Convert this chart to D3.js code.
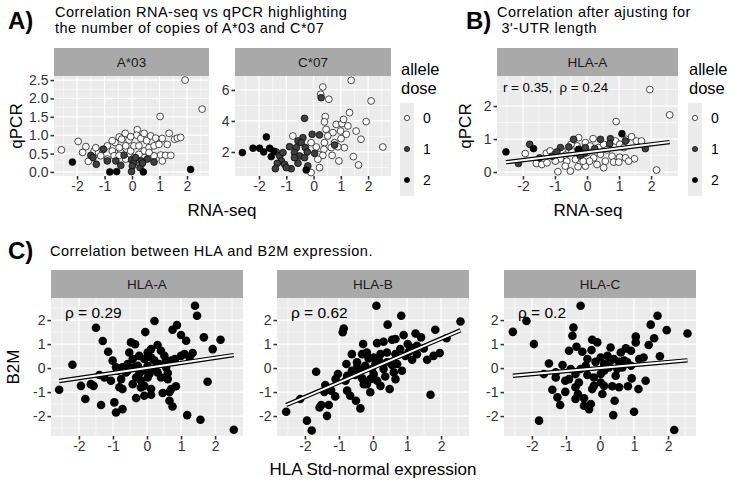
<!DOCTYPE html>
<html><head><meta charset="utf-8">
<script src="https://cdn.jsdelivr.net/npm/d3@7/dist/d3.min.js"></script>
<style>body{margin:0;background:#fff}svg{display:block;font-family:"Liberation Sans",Arial,Helvetica,sans-serif}</style>
</head><body><svg id="c" width="749" height="484"></svg>
<script>
// ---------------- DATA ----------------
const doseLevels = ["0","1","2"];
// Panel A, facet A*03 : [RNA-seq, qPCR] per allele dose
const a03Dose0 = [[1.93,2.5],[2.55,1.71],[1.02,1.51],[-2.57,0.6],[-1.96,0.83],[-1.68,0.69],[-1.8,0.53],[-1.59,0.29],[-1.38,0.57],[-1.22,0.53],[-1.08,0.6],[-0.9,0.71],[-0.72,0.57],[-0.62,0.8],[-0.47,0.95],[-0.25,1.05],[-0.38,0.89],[-0.11,0.87],[0.19,1.15],[0.17,1.0],[0.32,0.91],[0.53,0.85],[0.68,0.98],[0.86,0.92],[1.1,0.91],[1.35,1.05],[1.55,0.89],[1.65,0.92],[1.77,0.94],[1.28,0.75],[-0.65,0.44],[-0.41,0.53],[-0.23,0.71],[-0.05,0.57],[0.07,0.71],[0.25,0.71],[0.44,0.57],[0.62,0.66],[0.8,0.71],[0.98,0.75],[1.04,0.46],[1.22,0.45],[1.41,0.45],[0.8,0.44],[1.1,0.3],[0.44,0.39],[-0.9,0.35],[-1.14,0.44],[-0.47,0.66],[0.07,0.39],[-0.23,0.35],[0.25,0.48],[0.62,0.53],[-0.72,0.85],[-0.05,0.96],[0.44,1.05],[-0.47,0.45],[-1.32,0.66]];
const a03Dose1 = [[-1.5,0.45],[-1.42,0.39],[-1.3,0.21],[-1.04,0.62],[-0.9,0.3],[-0.59,0.3],[-0.41,0.18],[-0.29,0.46],[-0.02,0.33],[0.07,0.25],[0.13,0.39],[0.34,0.3],[0.01,0.16],[0.29,0.12],[0.56,0.35],[0.8,0.27],[0.38,0.24],[-0.02,0.01]];
const a03Dose2 = [[-2.17,0.27],[-0.81,0.0],[-0.56,0.01],[0.41,0.0],[2.13,0.07]];
// Panel A, facet C*07
const c07Dose0 = [[1.38,6.62],[0.34,6.19],[0.26,5.72],[0.56,5.4],[2.11,5.29],[1.32,4.54],[0.43,4.28],[0.4,3.94],[1.93,3.96],[0.83,3.78],[1.04,3.83],[1.1,4.1],[1.26,3.68],[0.46,3.46],[0.71,3.25],[0.99,3.35],[1.2,3.14],[1.56,3.35],[-0.76,3.03],[0.52,3.03],[1.01,2.86],[1.74,2.82],[0.4,2.6],[0.77,2.6],[1.13,2.28],[0.1,2.32],[0.38,2.17],[0.65,2.28],[0.89,2.34],[2.54,2.32],[0.16,1.85],[0.34,1.78],[0.68,1.78],[1.46,1.7],[0.16,1.53],[0.93,1.42],[1.65,1.16],[0.22,0.99],[-0.09,0.67],[-0.09,2.6]];
const c07Dose1 = [[0.28,5.5],[-0.33,4.17],[-0.05,3.14],[0.22,3.1],[-0.39,2.92],[-0.57,2.71],[-0.45,2.6],[-0.88,2.34],[-0.63,2.28],[-0.3,2.28],[-0.7,1.96],[-0.51,1.74],[-0.23,2.0],[0.04,1.91],[0.77,2.45],[-1.37,2.0],[-1.24,1.74],[-1.18,1.42],[-1.33,1.27],[-1.06,1.2],[-0.82,0.92],[-1.4,0.92],[-1.0,0.99],[-0.57,1.27],[-0.33,1.63],[-0.7,1.63],[-1.12,1.96],[-0.21,1.1]];
const c07Dose2 = [[-2.61,1.96],[-2.22,2.24],[-1.98,2.24],[-1.83,2.0],[-1.61,2.24],[-1.73,2.97],[-1.46,2.06],[-1.55,1.7],[-0.27,0.84]];
// Panel B, HLA-A after 3'-UTR adjustment
const bDose0 = [[1.96,2.5],[2.58,1.73],[0.91,1.53],[2.17,0.06],[-0.91,0.01],[-0.52,0.03],[-0.28,0.16],[-0.05,0.18],[-1.93,0.56],[-1.58,0.26],[-1.41,0.23],[-1.27,0.57],[-1.15,0.64],[-0.99,0.56],[-0.78,0.64],[-0.68,0.51],[-0.47,0.61],[-0.26,1.04],[0.19,1.01],[-0.05,0.89],[0.1,0.79],[0.36,0.74],[0.52,0.84],[0.89,0.94],[1.02,0.84],[1.23,0.99],[1.39,1.07],[1.54,0.94],[1.7,0.94],[1.15,0.74],[0.78,0.48],[1.02,0.45],[1.2,0.43],[1.48,0.4],[1.3,0.33],[0.83,0.3],[0.57,0.33],[0.52,0.13],[0.31,0.23],[0.21,0.43],[-0.36,0.38],[-0.63,0.33],[-0.83,0.4],[-0.99,0.33],[-0.21,0.48],[0.0,0.59],[0.42,0.54],[0.62,0.67],[-0.31,0.79],[-0.5,0.84],[-0.12,0.33],[0.08,0.33],[0.99,0.3],[-1.25,0.28],[-0.68,0.18]];
const bDose1 = [[-2.14,0.26],[-1.79,0.84],[-1.48,0.43],[-1.09,0.48],[-0.83,0.74],[-0.57,0.76],[-0.42,0.99],[-0.26,0.64],[-0.08,0.57],[0.24,0.71],[0.42,0.99],[0.73,1.01],[0.71,0.86],[1.2,0.94],[1.82,0.71],[-0.05,0.74],[-0.21,0.51],[-0.94,0.61]];
const bDose2 = [[-2.53,0.61],[-1.67,0.71],[-0.26,0.69],[1.09,1.16]];
const bFit = {slope:0.119, intercept:0.60};
// Panel C : [HLA std-normal expression, B2M]
const cHlaA = [[1.41,2.6],[1.47,2.18],[-1.5,1.68],[0.22,1.96],[0.88,1.79],[0.75,1.6],[1.0,1.38],[1.15,1.14],[1.67,1.28],[2.16,1.18],[1.93,0.79],[-0.05,1.5],[-1.3,1.13],[-0.47,1.07],[-0.35,0.99],[-1.14,0.68],[-2.19,0.14],[-1.01,0.31],[0.31,0.96],[0.12,0.79],[0.02,0.65],[0.41,0.72],[0.51,0.51],[-0.23,0.51],[-0.42,0.375],[-0.57,0.17],[-0.72,0.03],[-0.86,-0.11],[-0.62,-0.18],[-0.27,0.1],[-0.13,-0.11],[0.02,0.1],[0.22,0.31],[0.36,0.17],[0.56,0.03],[0.71,0.31],[0.82,0.375],[1.0,0.51],[1.1,0.58],[1.34,0.63],[-1.4,-0.29],[-1.25,-0.39],[-1.06,-0.53],[-0.81,-0.8],[-0.72,-0.875],[-0.42,-0.67],[-0.18,-0.53],[0.02,-0.39],[-0.08,-0.74],[0.12,-0.875],[0.41,-0.39],[0.61,-0.21],[0.07,-0.25],[-2.58,-0.9],[-1.94,-0.74],[-1.65,-0.67],[-1.57,-0.74],[-1.81,-1.29],[-1.35,-1.54],[-0.96,-1.43],[-0.91,-1.85],[-0.72,-1.71],[-0.32,-1.25],[-0.08,-1.15],[0.12,-1.11],[0.46,-1.04],[0.66,-0.99],[0.85,-0.76],[0.66,-1.36],[0.75,-1.6],[1.18,-1.96],[1.57,-2.15],[2.55,-2.57],[1.78,-0.57],[-0.57,-0.11],[-0.37,0.03],[-0.23,-0.25],[0.22,-0.04],[0.31,-0.18],[0.56,0.31],[-0.08,0.375],[0.12,0.44],[0.61,-0.46],[-0.32,-0.39],[-0.18,-0.81],[-0.76,-0.46],[-0.52,0.65],[1.25,0.44],[-0.91,0.03],[0.71,-0.875]];
const cHlaB = [[0.1,2.6],[0.83,2.18],[2.57,1.94],[-0.86,1.65],[-0.89,1.49],[0.43,1.81],[1.83,1.6],[1.25,1.44],[0.9,1.375],[1.41,1.28],[2.16,1.24],[-0.29,1.0],[0.12,1.04],[0.31,1.1],[0.56,1.18],[0.66,1.21],[1.02,1.0],[1.29,0.93],[1.49,0.82],[1.96,0.625],[1.59,0.35],[-0.62,0.58],[-0.32,0.58],[-0.13,0.4],[0.02,0.44],[0.17,0.33],[0.41,0.65],[0.66,0.58],[0.8,0.79],[1.05,0.68],[1.15,0.35],[-0.78,0.17],[-0.47,0.03],[-0.23,0.1],[-0.03,-0.04],[0.31,-0.04],[0.56,0.125],[-1.67,-0.15],[-1.03,-0.25],[-1.1,-0.46],[-0.76,-0.32],[-0.52,-0.29],[-0.32,-0.43],[-0.08,-0.46],[0.12,-0.53],[0.36,-0.35],[0.66,-0.46],[0.85,-0.11],[-1.4,-0.71],[-1.23,-0.94],[-1.11,-1.18],[-0.76,-0.94],[-0.67,-1.15],[-0.5,-1.36],[-0.37,-1.68],[-0.08,-1.01],[0.49,-0.875],[1.69,-1.11],[-2.14,-1.29],[-2.55,-1.82],[-1.52,-1.54],[-1.57,-1.64],[-1.3,-1.54],[-1.35,-1.99],[-1.94,-2.19],[-1.8,-2.6],[-0.18,-0.67],[0.22,-0.74],[-0.81,-0.53],[-0.37,-0.11],[0.07,0.17],[0.41,0.24],[0.71,0.17],[0.95,0.51],[1.29,0.58],[0.22,0.58],[-0.18,0.65],[-0.47,0.24],[-0.62,-0.11],[-0.27,-0.67],[0.02,-0.25],[0.61,-0.18],[-1.43,-0.99],[1.1,0.86],[1.78,0.51]];
const cHlaC = [[-0.57,2.6],[-2.16,1.96],[-2.56,1.51],[-1.94,1.0],[-0.78,1.69],[-0.81,1.35],[1.69,2.18],[1.49,1.81],[1.96,1.58],[2.57,1.44],[1.59,1.24],[1.05,1.31],[1.05,1.07],[1.43,0.96],[1.28,0.44],[1.76,0.49],[-0.23,1.18],[-0.08,1.07],[-0.91,0.72],[-0.69,0.89],[-0.52,0.68],[-0.25,0.75],[0.31,0.86],[0.61,0.65],[0.76,0.82],[0.91,0.72],[1.15,0.375],[0.02,0.44],[0.22,0.51],[0.41,0.375],[0.56,0.26],[0.8,0.24],[-0.13,0.26],[0.12,0.17],[-1.5,0.19],[-1.1,0.125],[-1.65,-0.25],[-1.3,-0.18],[-1.3,-0.39],[-0.91,-0.46],[-0.72,-0.25],[-0.57,-0.04],[-0.42,0.1],[-0.37,-0.29],[-0.18,-0.39],[0.02,-0.25],[0.12,-0.11],[0.26,0.03],[0.51,-0.04],[0.66,0.03],[-1.4,-0.9],[-1.02,-0.99],[-1.25,-1.22],[-1.17,-1.54],[-0.72,-1.29],[-0.65,-1.08],[-0.47,-1.26],[-0.47,-1.57],[-0.27,-1.5],[-0.32,-1.71],[-0.18,-0.74],[0.07,-1.08],[0.12,-0.74],[0.36,-0.76],[0.56,-0.8],[0.43,-1.36],[0.39,-1.96],[0.82,-0.76],[0.93,-0.43],[1.13,-0.875],[1.34,-0.53],[1.0,-1.82],[-1.79,-2.19],[2.18,-2.58],[-0.62,-0.6],[-1.02,-0.53],[0.02,-0.6],[-0.23,-0.875],[-0.72,-0.8],[0.31,0.31],[0.46,-0.32],[0.71,0.31],[0.91,0.1],[-0.37,0.375],[-0.86,-0.04]];
const cFits = [{slope:0.21, intercept:0.005},{slope:0.608, intercept:0.01},{slope:0.125, intercept:0.0}];
const cStrips = ["HLA-A","HLA-B","HLA-C"];
const cRho = ["ρ = 0.29","ρ = 0.62","ρ = 0.2"];
// tick values / labels
const ticksX = [-2,-1,0,1,2];
const ticksXLabels = ["-2","-1","0","1","2"];
const ticksYa03 = [0,0.5,1,1.5,2,2.5];
const ticksYa03Labels = ["0.0","0.5","1.0","1.5","2.0","2.5"];
const ticksYc07 = [2,4,6];
const ticksYc07Labels = ["2","4","6"];
const ticksYb = [0,1,2];
const ticksYbLabels = ["0","1","2"];
const ticksYc = [-2,-1,0,1,2];
const ticksYcLabels = ["-2","-1","0","1","2"];

// ---------------- STYLE / LAYOUT ----------------
const doseFill = {"0":"#FFFFFF","1":"#404040","2":"#000000"};
const svg = d3.select("#c");
const STRIP_H = 28;
const AXIS_TITLE = 17;

function minorTicks(ticks, dom){
  const step = ticks[1]-ticks[0], out=[];
  for(let v=ticks[0]-step/2; v<=ticks[ticks.length-1]+step/2+1e-9; v+=step){ if(v>dom[0] && v<dom[1]) out.push(v); }
  return out;
}

function makePanel(cfg){
  const [x0,y0,x1,y1] = cfg.box;
  const x = d3.scaleLinear().domain(cfg.xd).range([x0,x1]);
  const y = d3.scaleLinear().domain(cfg.yd).range([y1,y0]);
  const g = svg.append("g");
  g.append("rect").attr("x",x0).attr("y",y0).attr("width",x1-x0).attr("height",y1-y0).attr("fill","#EBEBEB");
  const grid = g.append("g").attr("stroke","#FFFFFF");
  minorTicks(cfg.xt,cfg.xd).forEach(v=>grid.append("line").attr("x1",x(v)).attr("x2",x(v)).attr("y1",y0).attr("y2",y1).attr("stroke-width",0.6));
  minorTicks(cfg.yt,cfg.yd).forEach(v=>grid.append("line").attr("y1",y(v)).attr("y2",y(v)).attr("x1",x0).attr("x2",x1).attr("stroke-width",0.6));
  cfg.xt.forEach(v=>grid.append("line").attr("x1",x(v)).attr("x2",x(v)).attr("y1",y0).attr("y2",y1).attr("stroke-width",1.2));
  cfg.yt.forEach(v=>grid.append("line").attr("y1",y(v)).attr("y2",y(v)).attr("x1",x0).attr("x2",x1).attr("stroke-width",1.2));
  // strip
  g.append("rect").attr("x",x0).attr("y",y0-STRIP_H).attr("width",x1-x0).attr("height",STRIP_H).attr("fill","#A9A9A9");
  g.append("text").attr("x",(x0+x1)/2).attr("y",y0-STRIP_H/2).attr("text-anchor","middle").attr("dominant-baseline","central")
    .attr("font-size",13.5).attr("fill","#1A1A1A").text(cfg.strip);
  // axes
  const ax = g.append("g").attr("transform",`translate(0,${y1})`)
    .call(d3.axisBottom(x).tickValues(cfg.xt).tickFormat((d,i)=>cfg.xl[i]).tickSize(3.5).tickPadding(2));
  const ay = g.append("g").attr("transform",`translate(${x0},0)`)
    .call(d3.axisLeft(y).tickValues(cfg.yt).tickFormat((d,i)=>cfg.yl[i]).tickSize(3.5).tickPadding(2));
  [ax,ay].forEach(a=>{
    a.select(".domain").remove();
    a.selectAll(".tick line").attr("stroke","#333").attr("stroke-width",1.6);
    a.selectAll(".tick text").attr("fill","#333").attr("font-size",14).attr("font-family","Liberation Sans, Arial, sans-serif");
  });
  return {g,x,y};
}

function drawFit(p, pts, fit){
  const ext = d3.extent(pts, d=>d[0]);
  const seg = ext.map(v=>[p.x(v), p.y(fit.intercept + fit.slope*v)]);
  const line = d3.line();
  p.g.append("path").attr("d",line(seg)).attr("stroke","#000").attr("stroke-width",4.4).attr("fill","none");
  p.g.append("path").attr("d",line(seg)).attr("stroke","#FFF").attr("stroke-width",2).attr("fill","none");
}

function drawDose(p, groups){
  groups.forEach((pts,i)=>{
    p.g.append("g").selectAll("circle").data(pts).join("circle")
      .attr("cx",d=>p.x(d[0])).attr("cy",d=>p.y(d[1])).attr("r",3.4)
      .attr("fill",doseFill[doseLevels[i]]).attr("stroke","#000").attr("stroke-width",0.7);
  });
}

function legend(x, y0){
  const g = svg.append("g");
  g.append("text").attr("x",x).attr("y",y0).attr("font-size",16.5).attr("fill","#000").text("allele");
  g.append("text").attr("x",x).attr("y",y0+19).attr("font-size",16.5).attr("fill","#000").text("dose");
  g.append("rect").attr("x",x-1).attr("y",103).attr("width",14).attr("height",93).attr("fill","#EBEBEB");
  doseLevels.forEach((lv,i)=>{
    const cy = 118 + i*31;
    g.append("circle").attr("cx",x+6).attr("cy",cy).attr("r",2.6).attr("fill",doseFill[lv]).attr("stroke","#000").attr("stroke-width",0.7);
    g.append("text").attr("x",x+22).attr("y",cy).attr("dominant-baseline","central").attr("font-size",14).attr("fill","#000").text(lv);
  });
}

function title(x, y, txt, opts={}){
  const t = svg.append("text").attr("x",x).attr("y",y).attr("font-size",opts.size||14.5).attr("fill","#000").text(txt);
  if(opts.bold) t.attr("font-weight","bold");
  if(opts.anchor) t.attr("text-anchor",opts.anchor);
  if(opts.rot) t.attr("transform",`rotate(-90,${x},${y})`);
  if(opts.ls) t.attr("letter-spacing",opts.ls);
  return t;
}

// ---------------- PANEL A ----------------
title(8,29,"A)",{bold:true,size:24});
title(55,16.5,"Correlation RNA-seq vs qPCR highlighting",{ls:0.5});
title(55,33,"the number of copies of A*03 and C*07",{ls:0.5});
const pA1 = makePanel({box:[54,76,209,176], xd:[-2.84,2.8], yd:[-0.11,2.61], xt:ticksX, xl:ticksXLabels, yt:ticksYa03, yl:ticksYa03Labels, strip:"A*03"});
drawDose(pA1,[a03Dose0,a03Dose1,a03Dose2]);
const pA2 = makePanel({box:[235,76,391,176], xd:[-2.88,2.84], yd:[0.45,6.9], xt:ticksX, xl:ticksXLabels, yt:ticksYc07, yl:ticksYc07Labels, strip:"C*07"});
drawDose(pA2,[c07Dose0,c07Dose1,c07Dose2]);
title(22,126,"qPCR",{size:AXIS_TITLE,anchor:"middle",rot:true});
title(222,216,"RNA-seq",{size:AXIS_TITLE,anchor:"middle"});
legend(401,75);

// ---------------- PANEL B ----------------
title(466,29,"B)",{bold:true,size:24});
title(497,16.5,"Correlation after ajusting for",{ls:0.5});
title(497,33," 3'-UTR length",{ls:0.5}).attr("xml:space","preserve");
const pB = makePanel({box:[497,76,678,176], xd:[-2.81,2.84], yd:[-0.12,2.91], xt:ticksX, xl:ticksXLabels, yt:ticksYb, yl:ticksYbLabels, strip:"HLA-A"});
drawDose(pB,[bDose0,bDose1,bDose2]);
drawFit(pB, [].concat(bDose0,bDose1,bDose2), bFit);
pB.g.append("text").attr("x",503).attr("y",87).attr("dominant-baseline","central").attr("font-size",13.3).attr("fill","#000")
  .attr("xml:space","preserve").text("r = 0.35,  ρ = 0.24");
title(471,126,"qPCR",{size:AXIS_TITLE,anchor:"middle",rot:true});
title(588,216,"RNA-seq",{size:AXIS_TITLE,anchor:"middle"});
legend(689,75);

// ---------------- PANEL C ----------------
title(8,259,"C)",{bold:true,size:24});
title(50,256,"Correlation between HLA and B2M expression.",{ls:0.5});
const cBoxes = [[51,298,243,436],[277,298,469,436],[504,298,696,436]];
[cHlaA,cHlaB,cHlaC].forEach((pts,i)=>{
  const p = makePanel({box:cBoxes[i], xd:[-2.82,2.82], yd:[-2.83,2.92], xt:ticksX, xl:ticksXLabels, yt:ticksYc, yl:ticksYcLabels, strip:cStrips[i]});
  p.g.append("g").selectAll("circle").data(pts).join("circle")
    .attr("cx",d=>p.x(d[0])).attr("cy",d=>p.y(d[1])).attr("r",4.3).attr("fill","#000");
  drawFit(p, pts, cFits[i]);
  p.g.append("text").attr("x",cBoxes[i][0]+14).attr("y",312).attr("dominant-baseline","central").attr("font-size",15.5).attr("fill","#000").text(cRho[i]);
});
title(19,367,"B2M",{size:AXIS_TITLE,anchor:"middle",rot:true});
title(373,475,"HLA Std-normal expression",{size:AXIS_TITLE,anchor:"middle"});
</script></body></html>
